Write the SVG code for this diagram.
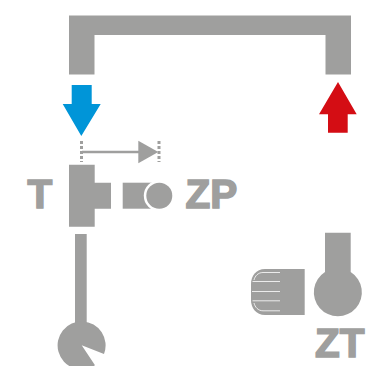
<svg xmlns="http://www.w3.org/2000/svg" width="378" height="366" viewBox="0 0 378 366">
<style>
.g{fill:#9f9f9e}
.t{font-family:"Liberation Sans",Arial,sans-serif;font-weight:700;font-size:40.500px;fill:#9f9f9e;stroke:#9f9f9e;stroke-width:1.600}
.w{fill:none;stroke:#fff;stroke-width:0.800}
.d{stroke:#9f9f9e;stroke-width:3;stroke-dasharray:3 2;fill:none}
</style>
<rect width="378" height="366" fill="#fff"/>
<g id="connectors">
<path id="pipe-top" class="g" d="M69 15.500H351V74.500H325.500V35H94.500V74.500H69Z"/>
<rect id="stem-left" class="g" x="75" y="234" width="11.700" height="95"/>
</g>
<g id="arrow-blue"><path fill="#0095d8" d="M71.700 85H91.700V104H100.700L81.300 136L62.700 104H71.700Z"/></g>
<g id="arrow-red"><path fill="#d40d14" d="M338 82L356.700 114.300H347.700V132.700H328V114.300H319Z"/></g>
<g id="dimension">
<path class="d" d="M81.500 141V162M159 141V162"/>
<path d="M82 152H139" stroke="#9f9f9e" stroke-width="2.500" fill="none"/>
<path class="g" d="M138.300 140.700L158.300 152L138.300 163.300Z"/>
</g>
<g id="node-t">
<path class="g" d="M69 164.700H94.700V182.700H111V208.700H94.700V226.700H69Z"/>
<text class="t" x="27.500" y="208">T</text>
</g>
<g id="node-zp">
<rect class="g" x="122.700" y="182.700" width="30" height="26"/>
<circle cx="159.300" cy="195.700" r="15.500" fill="#fff"/>
<circle class="g" cx="159.300" cy="195.700" r="13"/>
<text class="t" x="185.500" y="208">ZP</text>
</g>
<g id="node-pump">
<path class="g" d="M81.700 345.300L104 354A24 24 0 1 0 95 365.300Z"/>
</g>
<g id="node-zt">
<path class="g" d="M325 232.700H350.700V272A24 24 0 1 1 325 272Z"/>
<path class="g" d="M265 269H304.700V315H265C256 315 251 308 251 300V284C251 276 256 269 265 269Z"/>
<path class="w" d="M280 272.500H263C258 272.500 255 276 254 280M280 281.500H252.500M280 291.500H252M280 300.800H252.500M280 310.800H263C258 310.800 255 307 254 303"/>
<text class="t" x="315" y="357">ZT</text>
</g>
</svg>
